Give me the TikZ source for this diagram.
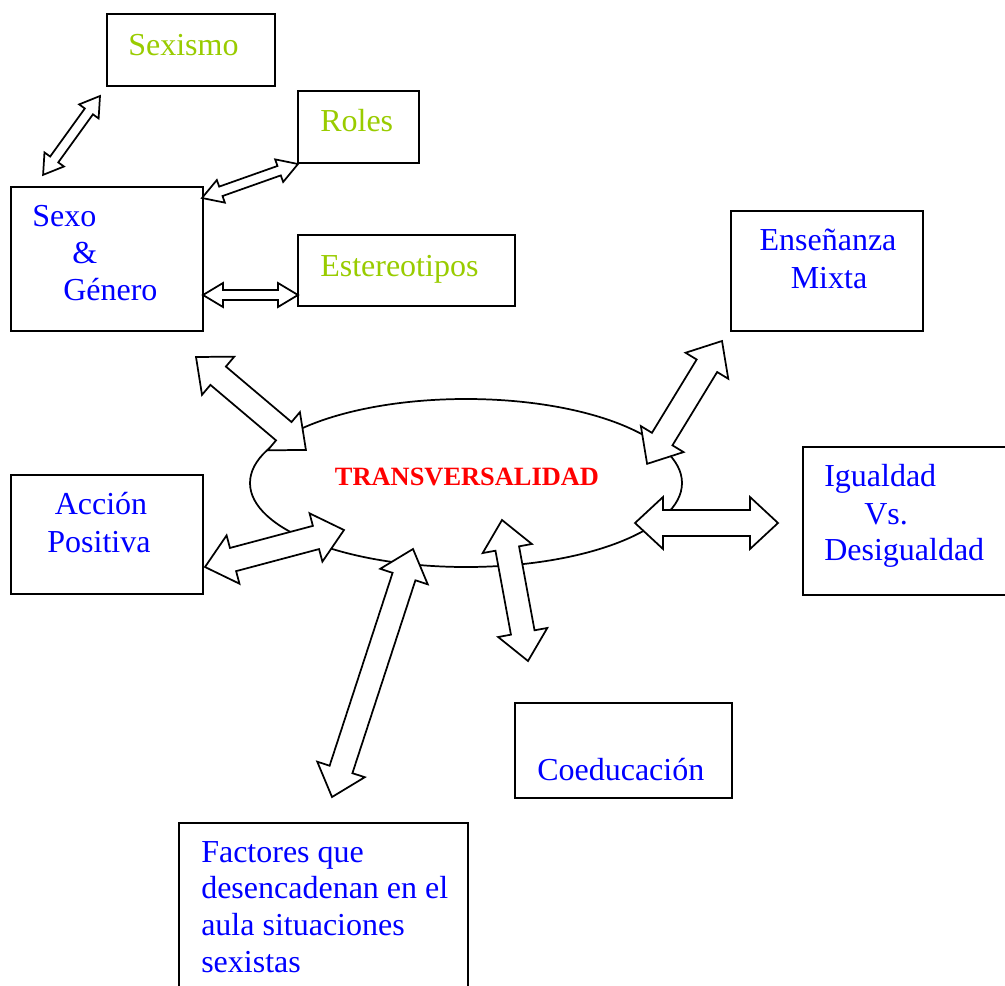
\documentclass[tikz,border=0pt]{standalone}
\usepackage{fontspec}
\setmainfont{Liberation Serif}
\usetikzlibrary{fit,shapes.geometric}
\definecolor{lgreen}{RGB}{153,204,0}
\definecolor{tblue}{RGB}{0,0,255}
\definecolor{tred}{RGB}{255,0,0}
\newcommand\dblarrow[5]{%
  \pgfpointdiff{\pgfpointanchor{#1}{center}}{\pgfpointanchor{#2}{center}}%
  \pgfgetlastxy{\arDX}{\arDY}%
  \pgfmathsetmacro\arLen{veclen(\arDX,\arDY)/0.75}%
  \pgfmathsetmacro\arAng{atan2(\arDY,\arDX)}%
  \draw[blockarrow, shift={(#1)}, rotate=\arAng, x=0.75pt, y=0.75pt]
    (0,0) -- (#5,#4) -- (#5,#3) -- ({\arLen-#5},#3) -- ({\arLen-#5},#4) -- (\arLen,0)
    -- ({\arLen-#5},-#4) -- ({\arLen-#5},-#3) -- (#5,-#3) -- (#5,-#4) -- cycle;
}
\begin{document}
\begin{tikzpicture}[x=0.75pt,y=-0.75pt,
  box/.style={draw=black, line width=1.5pt, inner sep=0pt},
  lbl/.style={inner sep=0pt, font=\fontsize{24}{27.6}\selectfont},
  glbl/.style={lbl, text=lgreen, anchor=base west},
  blbl/.style={lbl, text=tblue, anchor=base west},
  clbl/.style={lbl, text=tblue, anchor=base},
  blockarrow/.style={draw=black, fill=white, line width=1.3pt, line join=miter}]
\useasboundingbox (0,0) rectangle (1005,985);
\clip (0,0) rectangle (1005,985);
\fill[white] (0,0) rectangle (1005,985);

% boxes
\node[box, fit={(107,14) (275,86)}] (sexismo) {};
\node[box, fit={(298,91) (419,163)}] (roles) {};
\node[box, fit={(11,187) (203,331)}] (sexo) {};
\node[box, fit={(298,235) (515,306)}] (estereo) {};
\node[box, fit={(731,211) (923,331)}] (ensenanza) {};
\node[box, fit={(803,447) (1008,595)}] (igualdad) {};
\node[box, fit={(11,475) (203,594)}] (accion) {};
\node[box, fit={(515,703) (732,798)}] (coeduc) {};
\node[box, fit={(179,823) (468,990)}] (factores) {};

% ellipse
\node[ellipse, draw=black, line width=1.3pt, minimum width=324pt, minimum height=126pt, inner sep=0pt] (transv) at (466,483) {};

% texts
\node[glbl] (t-sexismo) at (128,55) {Sexismo};
\node[glbl] (t-roles) at (320,131) {Roles};
\node[glbl] (t-estereo) at (320,276) {Estereotipos};
\node[blbl] (t-sexo1) at (32,226) {Sexo};
\node[blbl] (t-sexo2) at (72,263) {\&};
\node[blbl] (t-sexo3) at (63,300) {Género};
\node[clbl] (t-ens1) at (828,250) {Enseñanza};
\node[clbl] (t-ens2) at (829,288) {Mixta};
\node[blbl] (t-ig1) at (824,486) {Igualdad};
\node[blbl] (t-ig2) at (864,524) {Vs.};
\node[blbl] (t-ig3) at (824,560) {Desigualdad};
\node[clbl] (t-acc1) at (101,514) {Acción};
\node[clbl] (t-acc2) at (99,552) {Positiva};
\node[blbl] (t-coed) at (537,780) {Coeducación};
\node[blbl] (t-fac1) at (201,862) {Factores que};
\node[blbl] (t-fac2) at (201,898) {desencadenan en el};
\node[blbl] (t-fac3) at (201,935) {aula situaciones};
\node[blbl] (t-fac4) at (201,972) {sexistas};
\node[inner sep=0pt, anchor=base, text=tred, font=\fontsize{19.8}{22}\selectfont\bfseries] (t-transv) at (467,485) {TRANSVERSALIDAD};

% arrow end points
\coordinate (a1s) at (100,96);  \coordinate (a1e) at (43,175);
\coordinate (a2s) at (202,198); \coordinate (a2e) at (298,164);
\coordinate (a3s) at (203,295); \coordinate (a3e) at (298,295);
\coordinate (a4s) at (196,357); \coordinate (a4e) at (306,450);
\coordinate (a5s) at (205,567); \coordinate (a5e) at (344,530);
\coordinate (a6s) at (413,549); \coordinate (a6e) at (332,797);
\coordinate (a7s) at (502,520); \coordinate (a7e) at (528,661);
\coordinate (a8s) at (722,341); \coordinate (a8e) at (647,464);
\coordinate (a9s) at (635,523); \coordinate (a9e) at (778,523);

% arrows
\dblarrow{a1s}{a1e}{5}{12}{19}
\dblarrow{a2s}{a2e}{5}{12}{20}
\dblarrow{a3s}{a3e}{5}{12}{20}
\dblarrow{a4s}{a4e}{12}{25}{29}
\dblarrow{a5s}{a5e}{12}{25}{29}
\dblarrow{a6s}{a6e}{12}{25}{29}
\dblarrow{a7s}{a7e}{12}{25}{29}
\dblarrow{a8s}{a8e}{12}{25}{29}
\dblarrow{a9s}{a9e}{13}{26}{28}
\end{tikzpicture}
\end{document}
